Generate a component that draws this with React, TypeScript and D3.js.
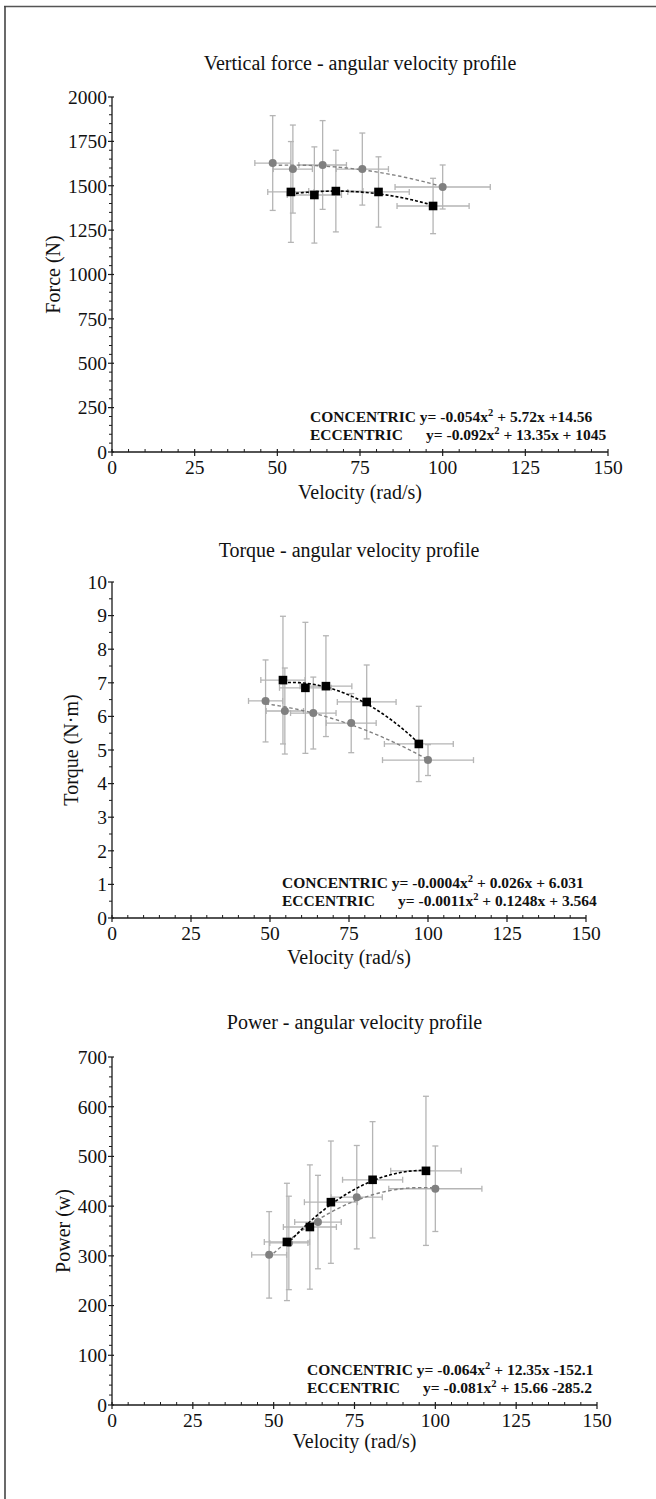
import React from "react";
import * as d3 from "d3";

// ---------- DATA ----------
const VEL_TICKS = [0, 25, 50, 75, 100, 125, 150];

// angular velocity (rad/s), shared by the three profiles
const CON_VEL = [54.1, 61.2, 67.7, 80.6, 97.1];
const CON_VEL_ERR = [7, 8.2, 8.2, 9.3, 10.9];
const ECC_VEL = [48.6, 54.7, 63.7, 75.7, 100];
const ECC_VEL_ERR = [5.4, 5.9, 7.2, 7.9, 14.4];

// Vertical force (N)
const FORCE_CON = [1465, 1448, 1470, 1465, 1386];
const FORCE_CON_ERR = [284, 271, 230, 198, 156];
const FORCE_ECC = [1628, 1594, 1617, 1594, 1493];
const FORCE_ECC_ERR = [267, 248, 250, 203, 124];
const FORCE_TICKS = [0, 250, 500, 750, 1000, 1250, 1500, 1750, 2000];

// Torque (N·m)
const TORQUE_CON = [7.08, 6.85, 6.9, 6.43, 5.18];
const TORQUE_CON_ERR = [1.9, 1.95, 1.5, 1.1, 1.12];
const TORQUE_ECC = [6.46, 6.16, 6.1, 5.8, 4.7];
const TORQUE_ECC_ERR = [1.22, 1.28, 1.07, 0.88, 0.46];
const TORQUE_TICKS = [0, 1, 2, 3, 4, 5, 6, 7, 8, 9, 10];

// Power (W)
const POWER_CON = [328, 358, 408, 453, 471];
const POWER_CON_ERR = [118, 125, 123, 117, 150];
const POWER_ECC = [302, 326, 368, 418, 435];
const POWER_ECC_ERR = [87, 94, 94, 104, 86];
const POWER_TICKS = [0, 100, 200, 300, 400, 500, 600, 700];

const TITLES = [
  "Vertical force - angular velocity profile",
  "Torque - angular velocity profile",
  "Power - angular velocity profile",
];
const Y_LABELS = ["Force (N)", "Torque (N·m)", "Power (w)"];
const X_LABEL = "Velocity (rad/s)";
const EQ_CON = [
  ["-0.054x", " + 5.72x +14.56"],
  ["-0.0004x", " + 0.026x + 6.031"],
  ["-0.064x", " + 12.35x -152.1"],
];
const EQ_ECC = [
  ["-0.092x", " + 13.35x + 1045"],
  ["-0.0011x", " + 0.1248x + 3.564"],
  ["-0.081x", " + 15.66 -285.2"],
];

// ---------- helpers ----------
function quadFit(xs: number[], ys: number[]) {
  const s = [0, 0, 0, 0, 0];
  const t = [0, 0, 0];
  xs.forEach((x, i) => {
    const y = ys[i];
    for (let k = 0; k < 5; k++) s[k] += Math.pow(x, k);
    for (let k = 0; k < 3; k++) t[k] += y * Math.pow(x, k);
  });
  const M = [
    [s[0], s[1], s[2], t[0]],
    [s[1], s[2], s[3], t[1]],
    [s[2], s[3], s[4], t[2]],
  ];
  for (let i = 0; i < 3; i++) {
    let p = i;
    for (let r = i + 1; r < 3; r++) if (Math.abs(M[r][i]) > Math.abs(M[p][i])) p = r;
    [M[i], M[p]] = [M[p], M[i]];
    for (let r = 0; r < 3; r++) {
      if (r === i) continue;
      const f = M[r][i] / M[i][i];
      for (let c = i; c < 4; c++) M[r][c] -= f * M[i][c];
    }
  }
  const a = M[0][3] / M[0][0], b = M[1][3] / M[1][1], c = M[2][3] / M[2][2];
  return (x: number) => a + b * x + c * x * x;
}

type Series = { x: number[]; y: number[]; xe: number[]; ye: number[] };

type Cfg = {
  title: string;
  titleY: number;
  yLabel: string;
  yLabelX: number;
  x0: number;
  x1: number;
  yTop: number;
  yBot: number;
  yMax: number;
  yTicks: number[];
  yMinorStep: number;
  con: Series;
  ecc: Series;
  eqCon: string[];
  eqEcc: string[];
  eqX: number;
  eqY: number;
  xLabelY: number;
};

const SERIF = "'Liberation Serif', 'Times New Roman', serif";
const ERR = "#b5b5b5";
const ECC_COL = "#808080";
const AXIS = "#1a1a1a";

function Chart({ c }: { c: Cfg }) {
  const xs = d3.scaleLinear().domain([0, 150]).range([c.x0, c.x1]);
  const ys = d3.scaleLinear().domain([0, c.yMax]).range([c.yBot, c.yTop]);
  const xMinor = d3.range(0, 150.001, 5).filter((v) => v % 25 !== 0);
  const yMinor = d3
    .range(0, c.yMax + 1e-9, c.yMinorStep)
    .filter((v) => !c.yTicks.some((t) => Math.abs(t - v) < 1e-9));
  const cap = 3;

  const fitPath = (s: Series) => {
    const f = quadFit(s.x, s.y);
    const lo = d3.min(s.x)!, hi = d3.max(s.x)!;
    const pts = d3.range(0, 61).map((i) => lo + ((hi - lo) * i) / 60);
    return d3
      .line<number>()
      .x((v) => xs(v))
      .y((v) => ys(f(v)))(pts)!;
  };

  const errBars = (s: Series, key: string) =>
    s.x.map((xv, i) => {
      const cx = xs(xv), cy = ys(s.y[i]);
      const xl = xs(xv - s.xe[i]), xr = xs(xv + s.xe[i]);
      const yt = ys(s.y[i] + s.ye[i]), yb = ys(s.y[i] - s.ye[i]);
      return (
        <g key={key + i} stroke={ERR} strokeWidth={1.3} fill="none">
          <line x1={xl} x2={xr} y1={cy} y2={cy} />
          <line x1={xl} x2={xl} y1={cy - cap} y2={cy + cap} />
          <line x1={xr} x2={xr} y1={cy - cap} y2={cy + cap} />
          <line x1={cx} x2={cx} y1={yt} y2={yb} />
          <line x1={cx - cap} x2={cx + cap} y1={yt} y2={yt} />
          <line x1={cx - cap} x2={cx + cap} y1={yb} y2={yb} />
        </g>
      );
    });

  const midX = (c.x0 + c.x1) / 2;
  const midY = (c.yTop + c.yBot) / 2;

  return (
    <g fontFamily={SERIF}>
      <text x={midX} y={c.titleY} textAnchor="middle" fontSize={20} fill="#111">
        {c.title}
      </text>
      {errBars(c.ecc, "e")}
      {errBars(c.con, "c")}
      <path d={fitPath(c.ecc)} fill="none" stroke={ECC_COL} strokeWidth={1.4} strokeDasharray="3.5,2.5" />
      <path d={fitPath(c.con)} fill="none" stroke="#000" strokeWidth={1.6} strokeDasharray="3,2" />
      {c.ecc.x.map((xv, i) => (
        <circle key={"ec" + i} cx={xs(xv)} cy={ys(c.ecc.y[i])} r={4} fill={ECC_COL} />
      ))}
      {c.con.x.map((xv, i) => (
        <rect key={"cs" + i} x={xs(xv) - 4.3} y={ys(c.con.y[i]) - 4.3} width={8.6} height={8.6} fill="#000" />
      ))}
      {/* axes */}
      <line x1={c.x0} x2={c.x1} y1={c.yBot} y2={c.yBot} stroke={AXIS} strokeWidth={1.3} />
      <line x1={c.x0} x2={c.x0} y1={c.yBot} y2={c.yTop} stroke={AXIS} strokeWidth={1.3} />
      {VEL_TICKS.map((t) => (
        <g key={"xt" + t}>
          <line x1={xs(t)} x2={xs(t)} y1={c.yBot - 3} y2={c.yBot + 4} stroke={AXIS} strokeWidth={1.2} />
          <text x={xs(t)} y={c.yBot + 21.5} textAnchor="middle" fontSize={19.5} fill="#111">
            {t}
          </text>
        </g>
      ))}
      {xMinor.map((t) => (
        <line key={"xm" + t} x1={xs(t)} x2={xs(t)} y1={c.yBot - 3} y2={c.yBot} stroke={AXIS} strokeWidth={1} />
      ))}
      {c.yTicks.map((t) => (
        <g key={"yt" + t}>
          <line x1={c.x0 - 4} x2={c.x0 + 2} y1={ys(t)} y2={ys(t)} stroke={AXIS} strokeWidth={1.2} />
          <text x={c.x0 - 5} y={ys(t)} dy="0.35em" textAnchor="end" fontSize={19.5} fill="#111">
            {t}
          </text>
        </g>
      ))}
      {yMinor.map((t) => (
        <line key={"ym" + t} x1={c.x0 - 3} x2={c.x0} y1={ys(t)} y2={ys(t)} stroke={AXIS} strokeWidth={1} />
      ))}
      <text
        transform={`translate(${c.yLabelX},${midY}) rotate(-90)`}
        textAnchor="middle"
        fontSize={20}
        fill="#111"
      >
        {c.yLabel}
      </text>
      <text x={midX} y={c.xLabelY} textAnchor="middle" fontSize={20} fill="#111">
        {X_LABEL}
      </text>
      <g fontWeight="bold" fontSize={15.5} fill="#111">
        <text x={c.eqX} y={c.eqY}>
          CONCENTRIC y= {c.eqCon[0]}
          <tspan dy={-6} fontSize={10.5}>2</tspan>
          <tspan dy={6}>{c.eqCon[1]}</tspan>
        </text>
        <text x={c.eqX} y={c.eqY + 18}>ECCENTRIC</text>
        <text x={c.eqX + 116} y={c.eqY + 18}>
          y= {c.eqEcc[0]}
          <tspan dy={-6} fontSize={10.5}>2</tspan>
          <tspan dy={6}>{c.eqEcc[1]}</tspan>
        </text>
      </g>
    </g>
  );
}

const CHARTS: Cfg[] = [
  {
    title: TITLES[0], titleY: 70, yLabel: Y_LABELS[0], yLabelX: 60,
    x0: 112, x1: 608, yTop: 97, yBot: 452, yMax: 2000, yTicks: FORCE_TICKS, yMinorStep: 50,
    con: { x: CON_VEL, y: FORCE_CON, xe: CON_VEL_ERR, ye: FORCE_CON_ERR },
    ecc: { x: ECC_VEL, y: FORCE_ECC, xe: ECC_VEL_ERR, ye: FORCE_ECC_ERR },
    eqCon: EQ_CON[0], eqEcc: EQ_ECC[0], eqX: 310, eqY: 422, xLabelY: 499,
  },
  {
    title: TITLES[1], titleY: 557, yLabel: Y_LABELS[1], yLabelX: 78,
    x0: 112, x1: 586, yTop: 582, yBot: 918, yMax: 10, yTicks: TORQUE_TICKS, yMinorStep: 0.5,
    con: { x: CON_VEL, y: TORQUE_CON, xe: CON_VEL_ERR, ye: TORQUE_CON_ERR },
    ecc: { x: ECC_VEL, y: TORQUE_ECC, xe: ECC_VEL_ERR, ye: TORQUE_ECC_ERR },
    eqCon: EQ_CON[1], eqEcc: EQ_ECC[1], eqX: 282, eqY: 888, xLabelY: 964,
  },
  {
    title: TITLES[2], titleY: 1029, yLabel: Y_LABELS[2], yLabelX: 70,
    x0: 112, x1: 597, yTop: 1057, yBot: 1405, yMax: 700, yTicks: POWER_TICKS, yMinorStep: 20,
    con: { x: CON_VEL, y: POWER_CON, xe: CON_VEL_ERR, ye: POWER_CON_ERR },
    ecc: { x: ECC_VEL, y: POWER_ECC, xe: ECC_VEL_ERR, ye: POWER_ECC_ERR },
    eqCon: EQ_CON[2], eqEcc: EQ_ECC[2], eqX: 307, eqY: 1375, xLabelY: 1448,
  },
];

export default function App() {
  return (
    <svg
      width={656}
      height={1499}
      style={{ position: "absolute", left: 0, top: 0, background: "#fff" }}
    >
      <rect x={0} y={0} width={656} height={1499} fill="#fff" />
      <line x1={4} x2={656} y1={6.5} y2={6.5} stroke="#555" strokeWidth={1.6} />
      <line x1={5} x2={5} y1={6} y2={1499} stroke="#444" strokeWidth={1.6} />
      {CHARTS.map((c, i) => (
        <Chart key={i} c={c} />
      ))}
    </svg>
  );
}
